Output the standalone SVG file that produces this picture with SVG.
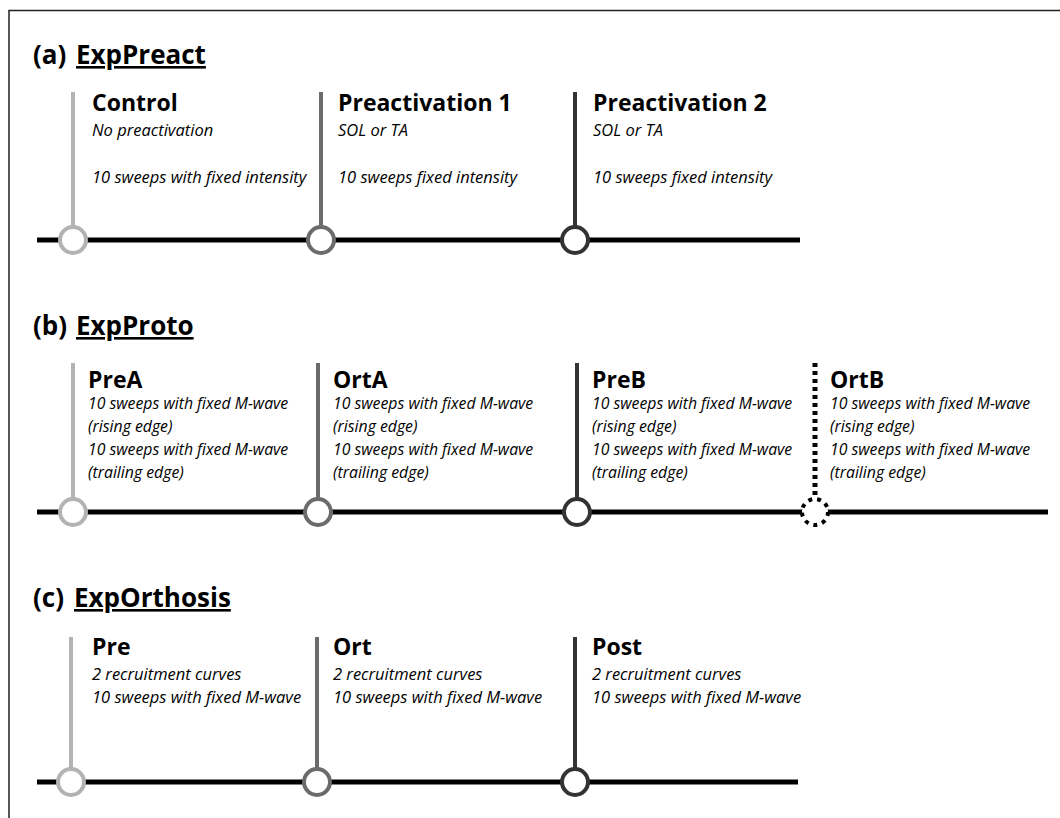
<svg xmlns="http://www.w3.org/2000/svg" width="1060" height="818" viewBox="0 0 1060 818">
<defs>
<style>
.hd{font-family:"Open Sans","Liberation Sans",sans-serif;font-weight:bold;font-size:26px;fill:#000}
.ul{text-decoration:underline}
.tt{font-family:"Open Sans","Liberation Sans",sans-serif;font-weight:bold;font-size:23px;fill:#000}
.bd{font-family:"Open Sans","Liberation Sans",sans-serif;font-style:italic;font-size:16.5px;fill:#000}
.bs{font-size:15.8px}
.tl{stroke:#000;stroke-width:5;fill:none}
.c1{stroke:#b3b3b3}
.c2{stroke:#6b6b6b}
.c3{stroke:#333}
.vl{stroke-width:4;fill:none}
.ci{stroke-width:4;fill:#fff}
</style>
<clipPath id="clipc"><rect x="0" y="0" width="1060" height="797"/></clipPath>
</defs>
<rect x="0" y="0" width="1060" height="818" fill="#fff"/>
<path d="M9,818 V10.5 H1060" stroke="#222" stroke-width="1.5" fill="none"/>

<g id="connectors">
<line class="tl" x1="37" y1="240" x2="800" y2="240"/>
<line class="tl" x1="37" y1="512" x2="1048" y2="512"/>
<line class="tl" x1="37" y1="782" x2="798" y2="782"/>
</g>

<g id="title-a">
<text class="hd" x="33" y="64">(a)</text>
<text class="hd ul" x="76" y="64">ExpPreact</text>
</g>
<g id="node-control">
<line class="vl c1" x1="73" y1="92" x2="73" y2="227"/>
<circle class="ci c1" cx="73" cy="240" r="13"/>
<text class="tt" x="92" y="111">Control</text>
<text class="bd" x="92" y="136">No preactivation</text>
<text class="bd" x="92" y="183">10 sweeps with fixed intensity</text>
</g>
<g id="node-preact1">
<line class="vl c2" x1="321" y1="92" x2="321" y2="227"/>
<circle class="ci c2" cx="321" cy="240" r="13"/>
<text class="tt" x="338" y="111">Preactivation 1</text>
<text class="bd" x="338" y="136">SOL or TA</text>
<text class="bd" x="338" y="183">10 sweeps fixed intensity</text>
</g>
<g id="node-preact2">
<line class="vl c3" x1="575" y1="92" x2="575" y2="227"/>
<circle class="ci c3" cx="575" cy="240" r="13"/>
<text class="tt" x="593" y="111">Preactivation 2</text>
<text class="bd" x="593" y="136">SOL or TA</text>
<text class="bd" x="593" y="183">10 sweeps fixed intensity</text>
</g>

<g id="title-b">
<text class="hd" x="33" y="335">(b)</text>
<text class="hd ul" x="76" y="335">ExpProto</text>
</g>
<g id="node-prea">
<line class="vl c1" x1="73" y1="363" x2="73" y2="499"/>
<circle class="ci c1" cx="73" cy="512" r="13"/>
<text class="tt" x="88" y="388">PreA</text>
<text class="bd bs" x="88" y="409">10 sweeps with fixed M-wave</text>
<text class="bd bs" x="88" y="432">(rising edge)</text>
<text class="bd bs" x="88" y="455">10 sweeps with fixed M-wave</text>
<text class="bd bs" x="88" y="478">(trailing edge)</text>
</g>
<g id="node-orta">
<line class="vl c2" x1="318" y1="363" x2="318" y2="499"/>
<circle class="ci c2" cx="318" cy="512" r="13"/>
<text class="tt" x="333" y="388">OrtA</text>
<text class="bd bs" x="333" y="409">10 sweeps with fixed M-wave</text>
<text class="bd bs" x="333" y="432">(rising edge)</text>
<text class="bd bs" x="333" y="455">10 sweeps with fixed M-wave</text>
<text class="bd bs" x="333" y="478">(trailing edge)</text>
</g>
<g id="node-preb">
<line class="vl c3" x1="577" y1="363" x2="577" y2="499"/>
<circle class="ci c3" cx="577" cy="512" r="13"/>
<text class="tt" x="592" y="388">PreB</text>
<text class="bd bs" x="592" y="409">10 sweeps with fixed M-wave</text>
<text class="bd bs" x="592" y="432">(rising edge)</text>
<text class="bd bs" x="592" y="455">10 sweeps with fixed M-wave</text>
<text class="bd bs" x="592" y="478">(trailing edge)</text>
</g>
<g id="node-ortb">
<line x1="815" y1="363" x2="815" y2="497" stroke="#000" stroke-width="5" stroke-dasharray="4,4"/>
<circle cx="815" cy="512" r="13" fill="#fff" stroke="#000" stroke-width="4" stroke-dasharray="4,5"/>
<text class="tt" x="830" y="388">OrtB</text>
<text class="bd bs" x="830" y="409">10 sweeps with fixed M-wave</text>
<text class="bd bs" x="830" y="432">(rising edge)</text>
<text class="bd bs" x="830" y="455">10 sweeps with fixed M-wave</text>
<text class="bd bs" x="830" y="478">(trailing edge)</text>
</g>

<g id="title-c">
<text class="hd" x="33" y="607">(c)</text>
<text class="hd ul" x="74" y="607">ExpOrthosis</text>
</g>
<g id="node-pre" clip-path="url(#clipc)">
<line class="vl c1" x1="71" y1="637" x2="71" y2="769"/>
<circle class="ci c1" cx="71" cy="782" r="13"/>
<text class="tt" x="92" y="655">Pre</text>
<text class="bd" x="92" y="680">2 recruitment curves</text>
<text class="bd" x="92" y="703">10 sweeps with fixed M-wave</text>
</g>
<g id="node-ort" clip-path="url(#clipc)">
<line class="vl c2" x1="317" y1="637" x2="317" y2="769"/>
<circle class="ci c2" cx="317" cy="782" r="13"/>
<text class="tt" x="333" y="655">Ort</text>
<text class="bd" x="333" y="680">2 recruitment curves</text>
<text class="bd" x="333" y="703">10 sweeps with fixed M-wave</text>
</g>
<g id="node-post" clip-path="url(#clipc)">
<line class="vl c3" x1="575" y1="637" x2="575" y2="769"/>
<circle class="ci c3" cx="575" cy="782" r="13"/>
<text class="tt" x="592" y="655">Post</text>
<text class="bd" x="592" y="680">2 recruitment curves</text>
<text class="bd" x="592" y="703">10 sweeps with fixed M-wave</text>
</g>
</svg>
